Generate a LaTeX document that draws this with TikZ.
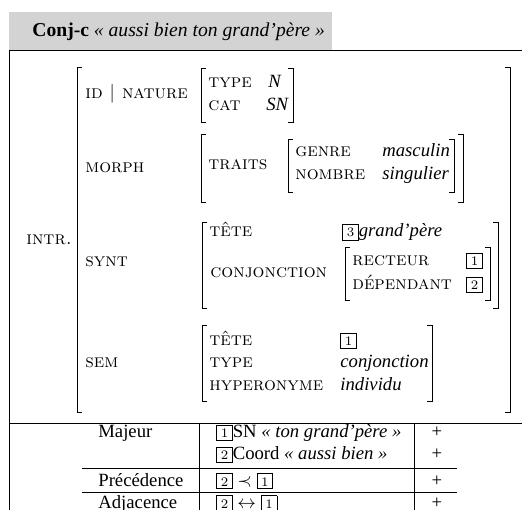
\documentclass[tikz,border=0pt]{standalone}
\usepackage{fontspec}
\newfontfamily\tms{Liberation Serif}
\usepackage{tikz}
\usetikzlibrary{positioning}
\definecolor{headgray}{RGB}{211,211,211}
\newcommand{\tagnum}[1]{{\fboxsep=1.3pt\fboxrule=0.4pt\fbox{\makebox[5.4pt]{\normalfont\scriptsize\rule{0pt}{5pt}#1}}}}
\tikzset{
  feat/.style={anchor=base west, inner sep=0pt, font=\scshape},
  val/.style={anchor=base west, inner sep=0pt, font=\tms\itshape},
  txt/.style={anchor=base west, inner sep=0pt, font=\tms},
  plus/.style={anchor=base, inner sep=0pt, font=\tms},
  brk/.style={line width=0.5pt},
  rule/.style={line width=0.5pt},
}
\begin{document}
\begin{tikzpicture}[x=0.535pt, y=-0.535pt]
\useasboundingbox (0,0) rectangle (522,510);
% title bar
\fill[headgray] (9,12) rectangle (332,50);
\node[txt, font=\tms\fontsize{10.5}{12}\selectfont] (title) at (32,37)
  {\textbf{Conj-c} \textit{« aussi bien ton grand’père »}};
\draw[rule] (9,510) -- (9,50) -- (522,50);
\draw[rule] (9,423) -- (522,423);
% brackets
\foreach \xl/\xr/\yt/\yb in {77/510/67/412, 201/293/68/122, 201/463/134/202,
    288/454/139/192, 202/498/222/308, 345/490/247/300, 202/432/325/401}
  \draw[brk] (\xl+5,\yt) -| (\xl,\yb) -- (\xl+5,\yb)
             (\xr-5,\yt) -| (\xr,\yb) -- (\xr-5,\yb);
% features
\node[feat] (intr) at (26,245) {intr.};
\node[feat] (idnat) at (85,99) {id $|$ nature};
\node[feat] (ftype) at (208,88) {type};
\node[val] (vtype) at (268,88) {N};
\node[feat] (fcat) at (208,111) {cat};
\node[val] (vcat) at (266,111) {SN};
\node[feat] (morph) at (85,173) {morph};
\node[feat] (traits) at (208,170) {traits};
\node[feat] (genre) at (295,157) {genre};
\node[val] (vgenre) at (382,157) {masculin};
\node[feat] (nombre) at (295,180) {nombre};
\node[val] (vnombre) at (382,180) {singulier};
\node[feat] (synt) at (85,267) {synt};
\node[feat] (stete) at (209,237) {tête};
\node[val] (vstete) at (342,237) {\tagnum{3}grand’père};
\node[feat] (conj) at (210,278) {conjonction};
\node[feat] (recteur) at (352,266) {recteur};
\node[txt] (vrecteur) at (466,266) {\tagnum{1}};
\node[feat] (dep) at (352,290) {dépendant};
\node[txt] (vdep) at (466,290) {\tagnum{2}};
\node[feat] (sem) at (85,368) {sem};
\node[feat] (mtete) at (209,346) {tête};
\node[txt] (vmtete) at (340,346) {\tagnum{1}};
\node[feat] (mtype) at (209,368) {type};
\node[val] (vmtype) at (340,368) {conjonction};
\node[feat] (hyper) at (209,390) {hyperonyme};
\node[val] (vhyper) at (340,390) {individu};
% constraints table
\draw[rule] (199,423) -- (199,510);
\draw[rule] (414,423) -- (414,510);
\draw[rule] (82,468) -- (457,468);
\draw[rule] (82,492) -- (457,492);
\node[txt] (majeur) at (98,438) {Majeur};
\node[txt] (sn) at (216,438) {\tagnum{1}SN \textit{« ton grand’père »}};
\node[plus] (p1) at (437,438) {+};
\node[txt] (coord) at (216,460) {\tagnum{2}Coord \textit{« aussi bien »}};
\node[plus] (p2) at (437,460) {+};
\node[txt] (prec) at (98,486) {Précédence};
\node[txt] (vprec) at (216,486) {\tagnum{2} $\prec$ \tagnum{1}};
\node[plus] (p3) at (437,486) {+};
\node[txt] (adj) at (98,508) {Adjacence};
\node[txt] (vadj) at (216,508) {\tagnum{2} $\leftrightarrow$ \tagnum{1}};
\node[plus] (p4) at (437,508) {+};
\end{tikzpicture}
\end{document}
